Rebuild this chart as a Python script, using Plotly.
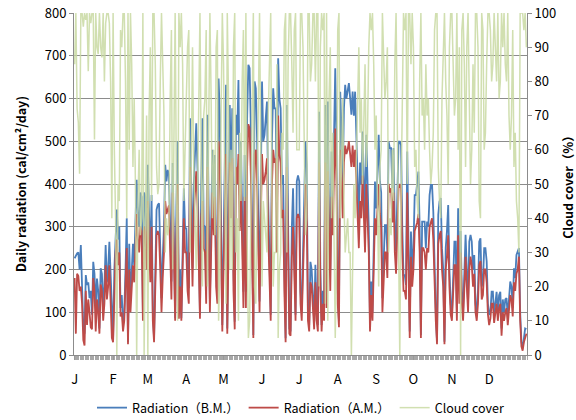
import plotly.graph_objects as go

month_labels = ["J", "F", "M", "A", "M", "J", "J", "A", "S", "O", "N", "D"]
month_days = [31, 28, 31, 30, 31, 30, 31, 31, 30, 31, 30, 31]

# Daily radiation, before-mentioned (B.M.) -- cal/cm2/day, by month
bm_jan = [226,234,238,240,200,257,150,62,50,187,164,170,133,150,94,218,190,110,179,150,62,203,190,117,160,257,170,200,265,180,100]
bm_feb = [40,200,300,340,270,300,110,140,70,100,200,320,30,260,130,200,260,210,300,410,330,300,380,370,100,380,370,250]
bm_mar = [445,300,214,374,100,39,200,340,351,355,250,133,230,300,445,406,433,421,300,172,449,300,86,350,500,101,200,86,250,390,296]
bm_apr = [296,200,156,554,400,203,400,500,542,437,300,94,400,554,304,300,164,562,350,125,300,480,343,468,200,150,647,560,300,70]
bm_may = [265,450,632,62,300,585,400,577,200,78,562,515,643,374,500,300,148,468,148,554,679,671,530,300,47,640,624,507,300,125,400]
bm_jun = [640,500,515,554,593,359,200,94,500,624,577,577,300,694,600,577,400,421,200,39,585,300,62,55,296,390,200,94,406,420]
bm_jul = [406,148,101,250,420,499,445,100,70,218,200,148,78,211,100,70,569,200,70,150,100,585,148,593,300,200,476,350,500,671,499]
bm_aug = [150,80,616,530,400,577,632,600,620,636,601,562,616,560,616,507,400,312,450,400,523,400,304,515,421,300,70,172,100,250,406]
bm_sep = [343,421,515,406,380,133,240,304,304,240,499,484,484,390,484,300,242,400,499,499,491,300,187,187,164,476,200,55,289,200]
bm_oct = [250,374,374,398,429,300,47,312,312,312,250,312,300,374,398,398,335,187,100,31,328,359,367,250,200,31,250,290,351,200,120]
bm_nov = [94,200,265,265,100,343,150,290,148,100,200,281,200,120,265,281,265,200,234,120,100,150,265,273,160,172,250,250,220,120]
bm_dec = [94,100,148,148,94,120,148,100,140,148,62,130,100,130,133,90,140,172,160,110,203,180,234,242,250,100,31,16,40,62,60]

# Daily radiation, after-mentioned (A.M.)
am_jan = [180,50,190,185,150,160,120,35,22,150,70,130,100,65,60,180,150,55,130,100,50,165,150,80,120,210,130,160,210,140,40]
am_feb = [30,160,240,270,210,240,90,100,55,80,160,250,25,200,100,160,210,170,240,330,270,240,300,290,80,300,290,200]
am_mar = [360,240,170,300,80,30,160,280,290,280,200,100,180,240,360,330,340,350,240,130,380,250,80,270,400,85,160,80,200,320,240]
am_apr = [240,150,120,440,330,160,330,400,430,350,230,85,320,360,250,240,120,440,280,100,240,380,280,370,160,120,500,460,240,55]
am_may = [200,350,470,50,230,450,320,460,150,60,440,400,470,290,400,230,110,370,110,440,540,530,420,230,40,470,480,400,230,100,310]
am_jun = [470,400,410,430,460,280,150,80,400,480,450,460,240,560,470,450,320,340,150,30,440,240,50,45,230,300,160,80,320,330]
am_jul = [320,120,80,200,330,400,350,80,55,170,160,110,60,170,80,55,450,160,55,120,80,450,110,430,240,150,370,280,420,530,400]
am_aug = [120,65,480,420,320,450,490,470,480,500,470,440,490,440,480,400,320,250,360,320,420,320,240,400,330,240,55,140,80,200,320]
am_sep = [280,340,400,330,300,100,180,240,240,180,400,380,390,310,380,240,190,320,390,400,390,240,150,150,130,380,160,40,230,160]
am_oct = [200,290,300,310,330,240,40,250,250,240,200,250,240,300,310,320,270,150,80,25,260,280,290,200,160,25,200,230,280,160,95]
am_nov = [80,160,210,210,80,280,120,240,120,80,160,230,160,100,200,230,210,160,190,100,80,120,210,220,130,140,200,200,170,95]
am_dec = [70,85,120,120,75,100,120,80,110,120,45,100,80,100,110,70,110,140,130,90,170,150,190,200,230,80,20,10,30,40,50]

# Cloud cover (%)
cc_jan = [85,100,72,68,53,100,100,96,100,98,100,83,100,97,100,100,63,100,90,88,100,90,87,100,80,97,100,100,97,80,40]
cc_feb = [100,60,40,0,50,45,95,90,100,100,80,40,100,60,100,85,55,75,50,0,45,60,35,40,100,0,30,70]
cc_mar = [0,70,90,45,100,100,85,55,47,50,80,100,85,70,30,40,35,38,75,95,25,70,100,50,10,100,90,100,85,45,60]
cc_apr = [70,90,95,30,55,90,55,40,25,45,75,100,55,20,70,75,95,20,65,100,75,40,60,35,90,95,10,25,70,100]
cc_may = [85,55,15,100,75,25,60,25,90,100,30,40,10,65,45,80,95,45,100,35,5,10,40,80,100,20,15,45,80,100,60]
cc_jun = [20,45,40,35,30,70,90,100,45,20,30,30,85,5,25,30,65,60,95,100,30,85,100,100,85,65,95,100,60,60]
cc_jul = [60,100,100,90,55,35,40,100,100,80,85,100,100,80,100,100,20,90,100,95,100,15,100,10,75,90,40,65,35,5,30]
cc_aug = [95,100,40,55,75,45,30,35,40,30,30,0,35,50,40,60,70,90,65,75,50,70,85,55,65,90,100,95,100,85,60]
cc_sep = [70,50,20,55,60,100,85,75,80,90,30,40,35,60,45,85,100,60,40,0,45,80,100,95,100,50,100,100,85,100]
cc_oct = [90,55,60,45,40,80,100,70,75,60,85,70,75,60,50,55,65,95,100,100,55,45,40,75,90,100,80,70,50,90,100]
cc_nov = [100,85,70,75,100,60,90,0,95,100,85,55,90,100,70,50,60,85,65,100,100,90,45,40,100,95,60,65,85,100]
cc_dec = [100,95,80,85,100,90,80,100,75,80,100,90,100,85,80,100,70,60,70,95,55,65,45,40,30,100,100,100,95,100,90]

rad_bm = bm_jan + bm_feb + bm_mar + bm_apr + bm_may + bm_jun + bm_jul + bm_aug + bm_sep + bm_oct + bm_nov + bm_dec
rad_am = am_jan + am_feb + am_mar + am_apr + am_may + am_jun + am_jul + am_aug + am_sep + am_oct + am_nov + am_dec
cloud = cc_jan + cc_feb + cc_mar + cc_apr + cc_may + cc_jun + cc_jul + cc_aug + cc_sep + cc_oct + cc_nov + cc_dec

days = list(range(len(rad_bm)))
month_starts = []
acc = 0
for n in month_days:
    month_starts.append(acc)
    acc += n

FONT = "Noto Sans CJK JP"
GRID = "#8c8c8c"

fig = go.Figure()
fig.add_trace(go.Scatter(x=days, y=rad_bm, mode="lines", name="Radiation（B.M.）",
                         line=dict(color="#4A7EBB", width=1.8)))
fig.add_trace(go.Scatter(x=list(range(len(rad_am))), y=rad_am, mode="lines", name="Radiation（A.M.）",
                         line=dict(color="#BE4B48", width=1.8)))
fig.add_trace(go.Scatter(x=list(range(len(cloud))), y=cloud, mode="lines", name="Cloud cover",
                         yaxis="y2", opacity=0.85,
                         line=dict(color="#C9DAA3", width=1.5)))

fig.update_layout(
    width=576, height=420,
    margin=dict(l=74, r=49, t=13, b=65, autoexpand=False),
    paper_bgcolor="white", plot_bgcolor="white",
    font=dict(family=FONT, size=13, color="#000000"),
    showlegend=True,
    legend=dict(orientation="h", x=0.5, xanchor="center", y=-0.155, yanchor="middle",
                font=dict(family=FONT, size=12.5), itemwidth=30, tracegroupgap=0,
                bgcolor="rgba(0,0,0,0)"),
    xaxis=dict(
        range=[-0.5, 364.5],
        tickmode="array", tickvals=month_starts, ticktext=month_labels,
        ticks="outside", ticklen=4, tickcolor="#9a9a9a", tickwidth=1,
        ticklabelstandoff=8,
        minor=dict(tickmode="linear", tick0=-0.5, dtick=1, ticks="outside", ticklen=4,
                   tickcolor="#a8a8a8", tickwidth=1, showgrid=False),
        showgrid=False, zeroline=False,
        showline=True, linecolor=GRID, linewidth=1,
        tickfont=dict(family=FONT, size=13),
    ),
    yaxis=dict(
        range=[0, 800], dtick=100, tick0=0,
        showgrid=True, gridcolor=GRID, gridwidth=1, zeroline=False,
        showline=True, linecolor=GRID, linewidth=1,
        ticks="outside", ticklen=4, tickcolor=GRID,
        tickfont=dict(family=FONT, size=13),
    ),
    yaxis2=dict(
        range=[0, 100], dtick=10, tick0=0, overlaying="y", side="right",
        showgrid=False, zeroline=False,
        showline=True, linecolor=GRID, linewidth=1,
        ticks="outside", ticklen=4, tickcolor=GRID,
        tickfont=dict(family=FONT, size=13),
    ),
)

fig.add_annotation(text="<b>Daily radiation (cal/cm²/day)</b>", xref="paper", yref="paper",
                   x=-0.119, y=0.5, textangle=-90, showarrow=False,
                   font=dict(family=FONT, size=12.5), xanchor="center", yanchor="middle")
fig.add_annotation(text="<b>Cloud cover（%）</b>", xref="paper", yref="paper",
                   x=1.088, y=0.5, textangle=-90, showarrow=False,
                   font=dict(family=FONT, size=12.5), xanchor="center", yanchor="middle")

fig.write_html("out.html")
